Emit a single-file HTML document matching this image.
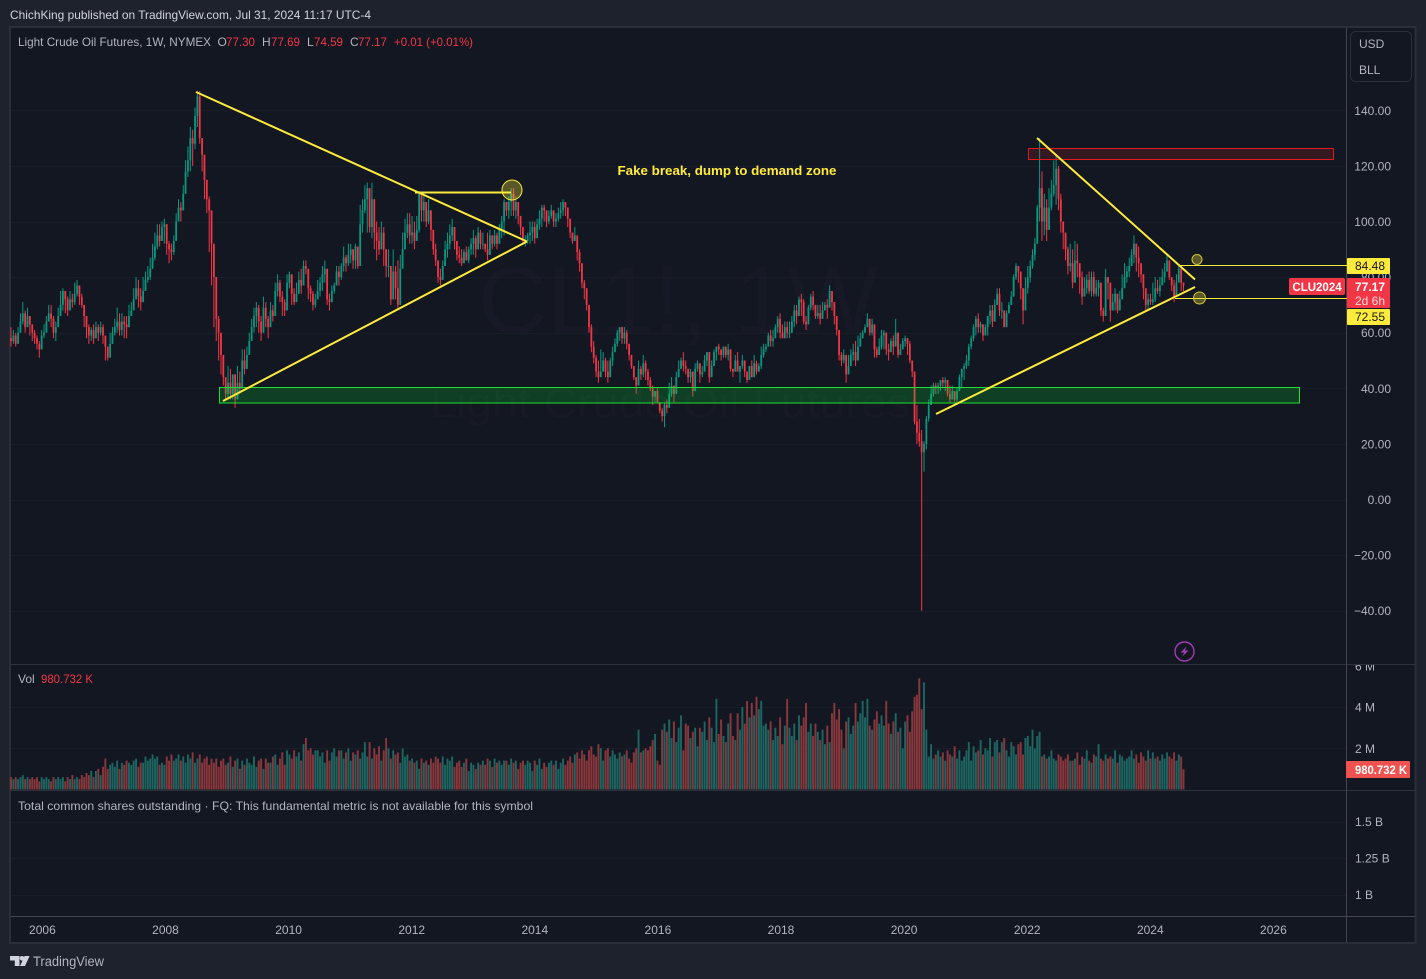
<!DOCTYPE html>
<html lang="en">
<head>
<meta charset="utf-8">
<title>Light Crude Oil Futures, 1W</title>
<style>
html,body{margin:0;padding:0;background:#1e222d;}
body{width:1426px;height:979px;overflow:hidden;}
svg{display:block;font-family:"Liberation Sans",sans-serif;}
.scale{fill:#b2b5be;font-size:12px;}
.lbl{fill:#b2b5be;font-size:12px;}
.red{fill:#f23645;font-size:12px;}
</style>
</head>
<body>
<svg id="chart" width="1426" height="979" viewBox="0 0 1426 979" xmlns="http://www.w3.org/2000/svg">
<defs>
<clipPath id="volPaneClip"><rect x="1347" y="665" width="68" height="125"/></clipPath>
</defs>
<rect x="0" y="0" width="1426" height="979" fill="#1e222d"/>
<text x="10" y="19" font-size="12" fill="#d1d4dc" textLength="361" lengthAdjust="spacingAndGlyphs">ChichKing published on TradingView.com, Jul 31, 2024 11:17 UTC-4</text>
<rect x="10" y="27" width="1405.5" height="916" fill="#131722" stroke="#2a2e39" stroke-width="2"/>

<text x="678" y="333" font-size="96" fill="#171a26" text-anchor="middle">CL1!, 1W</text>
<text x="430" y="417" font-size="42" fill="#171a26" textLength="480" lengthAdjust="spacingAndGlyphs">Light Crude Oil Futures</text>

<g id="gridLayer"></g>
<g id="volumeLayer"></g>
<g id="candleLayer"></g>

<!-- pane separators and axes -->
<line x1="11" y1="664.5" x2="1415" y2="664.5" stroke="#2e323d" stroke-width="1"/>
<line x1="11" y1="790.5" x2="1415" y2="790.5" stroke="#2e323d" stroke-width="1"/>
<line x1="11" y1="916.5" x2="1415" y2="916.5" stroke="#434651" stroke-width="1"/>
<line x1="1346.5" y1="28" x2="1346.5" y2="942" stroke="#434651" stroke-width="1"/>

<!-- drawings -->
<g>
<rect x="219.5" y="387.5" width="1080" height="15.5" fill="rgba(0,230,50,0.2)" stroke="#1fe02c" stroke-width="1"/>
<rect x="1028.5" y="148.5" width="305" height="11" fill="rgba(242,40,50,0.15)" stroke="#e01a1a" stroke-width="1"/>
<line x1="196" y1="92" x2="527" y2="241.5" stroke="#ffeb3b" stroke-width="2"/>
<line x1="223" y1="401" x2="527" y2="241.5" stroke="#ffeb3b" stroke-width="2"/>
<line x1="415" y1="192.5" x2="511" y2="192.5" stroke="#ffeb3b" stroke-width="2"/>
<circle cx="512" cy="190" r="10" fill="rgba(255,235,59,0.3)" stroke="#ffeb3b" stroke-width="1"/>
<line x1="1037" y1="138" x2="1195" y2="279.5" stroke="#ffeb3b" stroke-width="2"/>
<line x1="936" y1="414" x2="1195" y2="287" stroke="#ffeb3b" stroke-width="2"/>
<line x1="1180" y1="265.5" x2="1347" y2="265.5" stroke="#ffeb3b" stroke-width="1"/>
<line x1="1175" y1="298.5" x2="1347" y2="298.5" stroke="#ffeb3b" stroke-width="1"/>
<circle cx="1197" cy="259.5" r="5" fill="rgba(255,235,59,0.3)" stroke="#d8c438" stroke-width="1"/>
<circle cx="1199.5" cy="298" r="6" fill="rgba(255,235,59,0.3)" stroke="#d8c438" stroke-width="1"/>
<text x="617.5" y="175" font-size="13" font-weight="bold" fill="#ffeb3b" textLength="219" lengthAdjust="spacingAndGlyphs">Fake break, dump to demand zone</text>
</g>

<g>
<text class="lbl" x="18" y="46" textLength="193" lengthAdjust="spacingAndGlyphs">Light Crude Oil Futures, 1W, NYMEX</text>
<text class="lbl" x="217.5" y="46">O</text>
<text class="red" x="226" y="46" textLength="29" lengthAdjust="spacingAndGlyphs">77.30</text>
<text class="lbl" x="262" y="46">H</text>
<text class="red" x="271" y="46" textLength="29" lengthAdjust="spacingAndGlyphs">77.69</text>
<text class="lbl" x="307" y="46">L</text>
<text class="red" x="314" y="46" textLength="29" lengthAdjust="spacingAndGlyphs">74.59</text>
<text class="lbl" x="350" y="46">C</text>
<text class="red" x="358" y="46" textLength="29" lengthAdjust="spacingAndGlyphs">77.17</text>
<text class="red" x="394" y="46" textLength="79" lengthAdjust="spacingAndGlyphs">+0.01 (+0.01%)</text>
</g>

<g>
<text class="lbl" x="18" y="683">Vol</text>
<text class="red" x="41" y="683" fill="#ef5350" textLength="52" lengthAdjust="spacingAndGlyphs">980.732 K</text>
</g>
<text class="lbl" x="18" y="810" textLength="515" lengthAdjust="spacingAndGlyphs">Total common shares outstanding · FQ: This fundamental metric is not available for this symbol</text>

<g id="axisLayer"></g>

<!-- unit box -->
<g>
<rect x="1350.5" y="31.5" width="61" height="50" rx="5" fill="#131722" stroke="#2a2e39" stroke-width="1"/>
<text class="lbl" x="1359" y="48" fill="#d1d4dc">USD</text>
<text class="lbl" x="1359" y="74" fill="#d1d4dc">BLL</text>
</g>

<!-- price axis tags -->
<g>
<rect x="1347" y="258" width="43" height="16" rx="1" fill="#ffeb3b"/>
<text x="1355" y="270" font-size="12" fill="#131722">84.48</text>
<rect x="1289" y="278" width="56" height="17" rx="2" fill="#f23645"/>
<text x="1317" y="291" font-size="11.5" font-weight="bold" fill="#fff" text-anchor="middle">CLU2024</text>
<rect x="1347" y="278" width="43" height="30" rx="1" fill="#f23645"/>
<text x="1355" y="291" font-size="12" font-weight="bold" fill="#fff">77.17</text>
<text x="1355" y="305" font-size="12" fill="#ffd9dc">2d 6h</text>
<rect x="1347" y="309" width="43" height="16" rx="1" fill="#ffeb3b"/>
<text x="1355" y="321" font-size="12" fill="#131722">72.55</text>
<rect x="1346" y="761" width="64" height="17" rx="1" fill="#f0534f"/>
<text x="1355" y="774" font-size="12" font-weight="bold" fill="#fff" textLength="52" lengthAdjust="spacingAndGlyphs">980.732 K</text>
</g>

<g>
<circle cx="1184.5" cy="651.5" r="9.5" fill="none" stroke="#a23cb4" stroke-width="1.4"/>
<polygon points="1186.5,646.5 1180.5,652.5 1184,652.5 1182.5,656.5 1188.5,650.5 1185,650.5" fill="#a23cb4"/>
</g>

<g>
<polygon points="10,956 19.5,956 19.5,966 14.8,966 14.8,960.5 10,960.5" fill="#d1d4dc"/>
<circle cx="22" cy="958.3" r="2.3" fill="#d1d4dc"/>
<polygon points="24.6,956 29.6,956 25,966 20,966" fill="#d1d4dc"/>
<text x="33" y="966" font-size="13.5" fill="#b2b5be" textLength="71" lengthAdjust="spacingAndGlyphs">TradingView</text>
</g>
</svg>

<script>
// ---- chart data (one bar per two weeks, ten per row) ----
const firstBarYear = 2005.49;
const barsPerYear = 26.09;
const yearTicks = [2006,2008,2010,2012,2014,2016,2018,2020,2022,2024,2026];
const priceTicks = [140,120,100,80,60,40,20,0,-20,-40];
const volumeTicks = [6,4,2];
const shareTicks = [1.5,1.25,1];
const shareTickLabels = ["1.5 B","1.25 B","1 B"];
const openFirst = 58;
const closes = [
57,59,56,60,64,67,62,66,63,60,
58,56,54,59,60,64,67,65,60,62,
66,70,75,72,68,72,71,74,77,73,
70,66,62,59,61,58,62,60,62,59,
55,51,56,60,62,64,61,64,63,62,
66,68,72,76,73,71,75,79,80,83,
87,91,95,93,98,99,92,90,89,93,
100,105,104,110,118,122,130,128,138,145,
130,124,115,108,104,92,80,65,60,52,
44,38,42,38,45,36,42,40,50,47,
52,57,62,66,69,64,60,69,65,62,
68,66,75,78,73,71,68,78,81,74,
71,74,79,77,84,83,76,74,70,72,
75,78,81,83,72,71,75,77,82,80,
84,87,85,88,90,86,91,84,99,104,
108,112,98,108,96,93,90,96,90,84,
84,72,82,76,70,83,90,96,99,95,
96,93,97,110,104,107,100,104,97,90,
86,80,79,84,90,92,95,98,93,88,
87,85,89,86,90,92,94,90,96,92,
92,90,88,95,92,95,92,97,100,107,
104,107,110,104,107,102,98,93,93,95,
96,98,94,99,101,105,104,100,102,104,
100,101,103,104,107,105,101,96,93,95,
89,85,78,76,70,62,55,51,46,44,
46,50,46,44,50,53,56,60,62,58,
60,56,52,48,44,41,47,45,49,46,
43,40,37,39,35,32,30,34,33,38,
41,38,44,47,50,48,47,44,46,39,
47,49,45,46,50,53,44,48,53,55,
54,52,55,52,54,47,46,50,46,48,
50,46,43,48,44,49,46,48,52,54,
55,59,57,58,62,65,60,58,62,60,
60,64,68,66,72,71,64,63,69,73,
70,66,67,65,68,70,69,75,71,66,
61,52,50,52,45,48,52,53,50,55,
58,60,62,65,60,63,54,52,55,59,
60,54,53,57,55,60,52,54,57,58,
56,50,46,28,24,21,17,20,29,34,
38,41,40,41,43,42,43,38,36,39,
36,39,44,47,48,50,55,58,62,65,
62,63,59,62,66,68,64,70,74,68,
68,62,67,70,73,80,84,82,76,68,
76,80,84,88,92,105,112,100,105,97,
105,110,113,119,108,100,96,90,84,85,
78,86,85,80,73,76,79,75,80,74,
76,78,68,66,80,78,68,71,74,68,
72,76,80,82,84,88,92,87,85,81,
76,70,72,71,72,76,75,77,80,82,
86,80,77,73,78,83,78,77
];
const highs = [
62,61,60,62,67,71,68,69,66,62,
61,59,57,61,63,66,70,70,66,64,
69,75,76,75,73,75,74,78,79,77,
74,69,66,63,62,63,64,63,64,63,
59,55,60,62,65,69,67,67,66,66,
70,71,76,80,79,76,80,82,84,87,
92,96,99,99,100,101,99,93,92,95,
103,108,107,113,122,127,134,133,141,147,
147,130,122,112,109,104,92,80,66,60,
50,44,48,47,45,40,48,46,54,54,
55,60,65,69,71,70,66,73,71,66,
71,70,78,81,79,75,72,81,82,79,
76,78,82,83,86,86,83,77,75,74,
79,80,84,86,76,74,77,78,84,84,
85,91,88,92,92,90,92,88,106,108,
113,114,112,114,103,100,98,100,98,90,
90,82,90,84,86,88,96,101,103,103,
102,100,102,111,110,110,106,108,102,97,
92,86,83,86,93,96,99,101,98,93,
91,90,90,91,91,94,97,95,98,97,
96,92,96,97,95,97,96,99,102,108,
107,109,112,112,109,106,102,98,95,96,
100,100,100,101,104,106,106,103,104,106,
103,103,105,107,108,106,104,100,96,98,
92,90,85,79,76,70,63,57,52,50,
54,53,51,50,51,55,58,61,62,61,
62,61,55,51,47,44,50,48,52,50,
47,44,41,38,40,35,33,35,36,42,
44,40,46,50,51,53,50,47,47,44,
49,50,47,48,52,53,47,50,54,55,
56,53,55,55,56,50,47,52,53,48,
52,48,45,48,50,52,50,49,55,56,
56,60,61,61,63,66,67,63,64,64,
64,66,70,70,73,74,72,66,70,74,
75,70,70,70,71,71,72,77,74,69,
65,57,53,54,48,52,54,56,57,59,
60,61,63,67,64,65,58,55,58,61,
61,57,56,58,59,65,55,56,58,59,
58,57,49,36,34,29,25,21,30,36,
41,42,42,42,43,44,44,42,41,41,
38,40,45,47,49,52,56,59,63,66,
67,64,62,63,66,70,70,72,76,76,
71,67,68,71,75,81,85,84,81,73,
80,84,86,90,94,106,130,118,110,108,
112,115,122,124,120,110,100,96,91,92,
90,93,92,85,82,80,81,82,82,82,
79,79,72,69,83,80,77,74,76,74,
75,81,85,84,87,90,95,90,91,84,
80,75,74,74,78,80,79,80,83,85,
88,83,79,79,81,84,82,78
];
const lows = [
55,56,55,57,60,63,60,62,59,57,
56,54,51,55,58,60,64,62,58,57,
64,66,68,67,66,68,69,70,73,70,
69,62,58,56,57,56,58,57,59,56,
50,50,54,58,59,60,59,59,58,58,
63,66,70,74,69,68,73,76,78,79,
85,86,90,91,93,92,88,85,86,88,
96,100,100,104,110,116,118,120,126,134,
128,118,108,103,89,77,62,57,50,45,
41,36,36,36,36,33,36,38,44,45,
48,53,57,60,62,60,57,62,62,58,
66,64,71,73,71,66,66,71,76,70,
70,72,76,74,79,81,72,71,68,69,
72,73,75,78,70,68,71,74,77,77,
79,82,82,84,85,83,83,83,88,96,
103,96,96,94,90,86,88,90,84,80,
80,70,76,72,69,76,84,90,94,92,
92,90,93,96,100,100,98,99,93,88,
84,78,77,80,84,87,90,93,90,86,
85,84,85,86,85,88,88,87,91,90,
90,89,86,90,90,91,90,92,94,95,
102,101,102,102,101,99,95,92,91,92,
92,93,92,95,97,98,100,98,99,101,
98,98,100,101,102,102,98,94,92,93,
86,82,76,72,68,60,53,49,44,42,
45,46,44,42,47,48,54,55,57,56,
56,54,50,47,43,38,44,43,44,43,
41,39,34,35,35,31,28,26,31,33,
37,35,40,45,47,46,45,42,42,37,
44,46,42,44,48,48,42,45,49,50,
52,50,51,51,50,46,44,46,46,42,
47,44,42,44,44,47,45,46,47,51,
53,57,55,55,59,60,58,58,58,58,
58,60,62,63,66,66,63,61,63,68,
68,65,65,63,65,68,65,70,68,63,
59,50,48,49,42,45,50,50,48,53,
57,58,60,62,59,59,51,51,53,54,
54,52,50,54,52,55,51,52,54,55,
52,49,44,27,20,19,-40,10,18,28,
34,37,38,38,39,40,39,37,35,36,
35,35,39,40,43,47,48,54,57,59,
60,60,57,59,59,63,62,66,70,66,
65,62,63,67,70,74,79,78,72,63,
68,74,78,83,86,93,100,93,95,93,
98,104,109,106,104,96,90,86,81,82,
76,78,80,74,70,73,74,74,73,73,
73,73,66,64,75,72,64,68,68,67,
70,72,78,78,80,84,85,82,80,78,
72,68,68,70,70,71,74,73,78,78,
83,79,75,71,76,80,75,75
];
const volumes = [
.6,.5,.6,.5,.6,.7,.5,.6,.5,.6,
.5,.6,.4,.6,.5,.6,.5,.4,.6,.5,
.6,.5,.6,.4,.6,.5,.7,.5,.6,.5,
.7,.6,.8,.7,.9,.6,.9,1,.7,1.1,
1.5,1,1.2,1.3,1.1,1.4,1,1.3,1.2,1.4,
1.3,1.2,1.4,1.5,1.1,1.3,1.3,1.6,1.4,1.5,
1.7,1.5,1.6,1.2,1.3,1.2,1.6,1.4,1.7,1.4,
1.5,1.7,1.4,1.6,1.3,1.7,1.5,1.8,1.3,1.5,
1.7,1.3,1.5,1.6,1.2,1.5,1.3,1.5,1.1,1.4,
1.5,1.2,1.3,1.6,1.1,1.4,1.5,1,1.4,1.2,
1.5,1.3,1.2,1.6,1.1,1.4,1.5,1,1.5,1.3,
1.3,1.6,1.7,1.2,1.5,1.8,1.2,1.9,1.7,1.5,
1.9,1.6,1.8,1.4,2.2,2.5,1.9,2,1.7,1.9,
1.9,1.6,1.8,1.3,1.9,1.4,1.8,2,1.6,1.9,
1.9,1.5,1.8,2,1.4,1.8,1.7,1.9,1.5,1.8,
2.3,1.6,2.3,1.5,2,1.7,2.1,1.4,1.9,2.5,
2,1.5,1.9,1.7,1.8,1.3,2,1.6,1.7,1.4,
1.5,1.3,1.4,1,1.5,1.3,1.4,1.2,1.5,1.3,
1.6,1.5,1.3,1.6,1.2,1.5,1.4,1.6,1.1,1.3,
1.4,1.1,1.3,1.5,.9,1.3,1.2,1,1.3,1.2,
1.4,1.2,1.5,1.4,1.1,1.5,1.3,1.4,1.2,1.4,
1.4,1.2,1.5,1.3,1.4,1,1.3,1.4,1.2,1.4,
1.3,.9,1.4,1.2,1.5,1,1.3,1.1,1.3,1.4,
1.2,1.4,1,1.3,1.5,1.2,1.4,1.6,1.3,1.7,
1.8,1.5,1.9,1.7,1.4,1.9,2.1,1.7,1.6,2.2,
2,1.4,1.9,2,1.6,1.9,1.7,1.5,1.8,1.6,
1.7,1.9,1.5,1.3,1.8,2,2.9,1.8,1.9,2,
1.9,2.1,2.4,2.7,1.4,1.2,2.9,3.2,2.8,3.4,
2.5,3.3,2.3,3,3.6,1.9,3.2,3.1,2.5,2.8,
3,2.1,3,2.8,3.3,2.4,3.5,3,2.3,4.4,
2.7,3.4,2.6,2.3,3.2,3.7,2.6,2.4,3.7,2.9,
4,3.2,4.3,3.5,4.2,3.6,4.5,3.9,4.3,3.1,
3.2,2.9,3.3,2.4,3,2.6,3.5,2.2,3.1,4.4,
3,2.6,3.2,2.4,3.6,3.1,3.5,4.2,2.8,3.2,
2.6,3.2,2.8,2.4,2.9,2.2,3.1,2.3,3.7,4.2,
3.4,3.9,2.9,2,3.3,3.5,2.7,3.1,4.2,3.3,
3.7,4.3,3.5,4.4,3.1,2.9,3.4,3.8,3.2,3.6,
3.1,4.3,3.2,2.7,3.3,3.7,2.8,3,2,3.3,
3.6,2.8,3.8,4.5,4.6,5.4,3.9,5.2,2.9,1.6,
2.2,1.5,1.7,1.9,1.6,1.8,1.4,1.9,1.7,1.6,
2.1,1.5,1.9,1.4,1.6,1.9,2.3,1.4,2.1,1.8,
1.9,2.4,1.7,2,1.9,2.5,1.6,2.3,2.4,1.8,
2.3,2.5,1.9,1.6,2.3,2.1,1.7,2.2,2.3,1.7,
2.5,2.6,2.1,2.9,2,2.6,2.8,1.6,1.7,1.5,
1.6,1.9,1.5,1.4,1.7,1.6,1.4,1.5,1.7,1.4,
1.4,1.5,1.8,1.2,1.6,1.5,1.9,1.4,1.3,1.7,
1.6,2.2,1.5,1.4,1.7,1.5,1.6,1.5,1.9,1.3,
1.7,1.6,1.4,1.5,1.6,1.9,1.5,1.7,1.3,1.8,
1.6,1.4,1.9,1.5,1.8,1.5,1.6,1.4,1.7,1.5,
1.8,1.6,1.5,1.8,1.4,1.7,1.6,.98
];

// ---- axis functions ----
const SVG_NS = "http://www.w3.org/2000/svg";
function xOfYear(y){ return 42.4 + (y - 2006) * 61.55; }
function xOfBar(i){ return xOfYear(firstBarYear + i / barsPerYear); }
function yOfPrice(p){ return 499.5 - 2.78 * p; }
function yOfVolume(v){ return 789.5 - 20.6 * v; }
function yOfShares(s){ return 894.5 - 146 * (s - 1); }
function priceLabel(p){ return (p < 0 ? "\u2212" : "") + Math.abs(p).toFixed(2); }
function make(tag, attrs, parent, txt){
  const el = document.createElementNS(SVG_NS, tag);
  for (const k in attrs) el.setAttribute(k, attrs[k]);
  if (txt !== undefined) el.textContent = txt;
  parent.appendChild(el);
  return el;
}

const gridLayer = document.getElementById("gridLayer");
const axisLayer = document.getElementById("axisLayer");
const volumeLayer = document.getElementById("volumeLayer");
const candleLayer = document.getElementById("candleLayer");
const GRID = "#191d28";

priceTicks.forEach(function(p){
  const y = Math.round(yOfPrice(p)) + 0.5;
  const g = make("line", {x1:11, x2:1346, y1:y, y2:y, stroke:GRID, "stroke-width":1}, gridLayer);
  
  
  const t = make("text", {x:1391, y:yOfPrice(p)+4.5, "text-anchor":"end", class:"scale"}, axisLayer, priceLabel(p));
  
  
});
volumeTicks.forEach(function(v){
  const y = Math.round(yOfVolume(v)) + 0.5;
  if (y > 670) {
    const g = make("line", {x1:11, x2:1346, y1:y, y2:y, stroke:GRID, "stroke-width":1}, gridLayer);
    
    
  }
  const t = make("text", {x:1355, y:yOfVolume(v)+4.5, class:"scale", "clip-path":"url(#volPaneClip)"}, axisLayer, v + " M");
  
  
});
shareTicks.forEach(function(s, i){
  const y = Math.round(yOfShares(s)) + 0.5;
  const g = make("line", {x1:11, x2:1346, y1:y, y2:y, stroke:GRID, "stroke-width":1}, gridLayer);
  
  
  const t = make("text", {x:1355, y:yOfShares(s)+4.5, class:"scale"}, axisLayer, shareTickLabels[i]);
  
  
});
yearTicks.forEach(function(yr){
  const t = make("text", {x:xOfYear(yr), y:934, "text-anchor":"middle", class:"scale"}, axisLayer, String(yr));
  
  
});

const UP = "#089981", DOWN = "#f23645", VUP = "#1e6662", VDOWN = "#8a383c";
closes.forEach(function(close, i){
  const open = i === 0 ? openFirst : closes[i-1];
  const up = close >= open;
  const x = xOfBar(i);
  const high = Math.max(highs[i], open, close);
  const low = Math.min(lows[i], open, close);
  const color = up ? UP : DOWN;
  const wick = make("line", {x1:x, x2:x, y1:yOfPrice(high), y2:yOfPrice(low), stroke:color, "stroke-width":1}, candleLayer);
  
  
  const top = yOfPrice(Math.max(open, close));
  const h = Math.max(1, Math.abs(yOfPrice(open) - yOfPrice(close)));
  const body = make("rect", {x:x-0.9, y:top, width:1.8, height:h, fill:color}, candleLayer);
  
  
  const vy = yOfVolume(volumes[i]);
  const vol = make("rect", {x:x-0.95, y:vy, width:1.9, height:yOfVolume(0)-vy, fill:up ? VUP : VDOWN}, volumeLayer);
  
  
});
</script>
</body>
</html>
